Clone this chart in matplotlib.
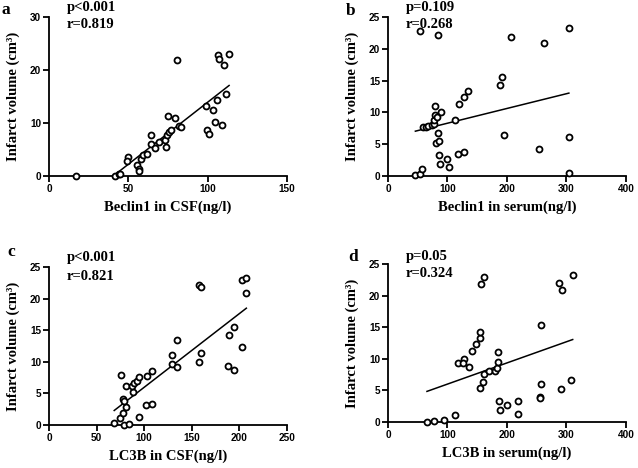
import matplotlib
matplotlib.use("Agg")
import matplotlib.pyplot as plt
import numpy as np

# panel a: Beclin1 in CSF
beclin_csf_x = [17, 41.5, 44, 45, 49.5, 49, 55.6, 56.5, 56.8, 57.7, 59, 62, 64.2, 64.6, 67,
                69.4, 73, 74, 74.5, 75.5, 75, 76.6, 79.7, 80.8, 81.8, 83.5, 99.2, 99.6,
                100.7, 103.4, 104.5, 106, 106.6, 107, 109.3, 110, 111.8, 113.5]
beclin_csf_y = [0, 0, 0.3, 0.3, 3.6, 2.8, 2.0, 1.4, 1.0, 3.3, 3.9, 4.1, 7.7, 6.1, 5.2,
                6.4, 6.7, 5.5, 7.7, 8.3, 11.3, 8.6, 11.0, 21.8, 9.4, 9.2, 13.3, 8.7,
                8.0, 12.4, 10.2, 14.3, 22.8, 22.0, 9.7, 20.9, 15.4, 23.1]

# panel b: Beclin1 in serum
beclin_serum_x = [46, 53, 57, 54, 83.5, 59, 64, 68, 74, 77, 78, 79.6, 78.5, 82, 89, 80.7,
                  85, 84, 85, 88, 100, 102, 113, 117.6, 127.7, 120, 127.7, 134.5, 187.7,
                  191.6, 195.5, 207, 253, 262.7, 303.6, 303.6, 304]
beclin_serum_y = [0.1, 0.3, 1.05, 22.8, 22.1, 7.7, 7.7, 7.9, 8.0, 8.2, 8.8, 9.6, 11.0, 9.3,
                  10.1, 5.2, 5.5, 6.8, 3.3, 1.9, 2.7, 1.4, 8.8, 3.5, 3.8, 11.3, 12.4, 13.4,
                  14.3, 15.5, 6.5, 21.9, 4.2, 20.9, 6.2, 0.4, 23.3]

# panel c: LC3B in CSF
lc3b_csf_x = [68.5, 75, 78, 78.7, 84, 80.8, 78, 79, 75.5, 80.8, 87.8, 86.7, 89, 92, 94.4,
              103, 108, 102.4, 108, 94.4, 129.7, 129.7, 134, 134, 157.3, 159.4, 157.3,
              160, 189, 194.4, 188, 194.4, 202.8, 203, 207.3, 206.6]
lc3b_csf_y = [0.3, 1.05, 1.9, 0.05, 0.15, 2.8, 4.1, 3.8, 7.9, 6.1, 5.3, 6.2, 6.7, 7.0, 7.6,
              7.8, 8.6, 3.2, 3.4, 1.3, 11.1, 9.7, 13.4, 9.2, 10.0, 11.4, 22.2, 21.9, 14.3,
              15.5, 9.4, 8.7, 12.3, 22.9, 23.2, 20.9]

# panel d: LC3B in serum
lc3b_serum_x = [65.5, 76.7, 93.5, 113, 117.6, 127, 126, 135.6, 141, 148, 154, 154, 155,
                159.7, 162, 169, 180, 184, 184.9, 184.9, 156.3, 160.8, 186, 188.8, 200,
                218.5, 218.5, 256, 256, 257.7, 257.7, 288, 292.4, 290.8, 307.6, 310.4]
lc3b_serum_y = [0, 0.1, 0.26, 1.05, 9.4, 10.0, 9.3, 8.7, 11.3, 12.4, 13.3, 14.2, 5.4, 6.4,
                7.6, 8.0, 8.0, 8.5, 9.5, 11.05, 21.8, 22.9, 3.3, 1.85, 2.7, 3.4, 1.3, 4.0,
                3.8, 6.05, 15.4, 21.95, 20.9, 5.2, 6.7, 23.2]

# regression lines (slope, intercept) as drawn in the figure
fit_a = (0.234, -9.48)
fit_b = (0.0232, 5.98)
fit_c = (0.1166, -5.69)
fit_d = (0.0335, 2.65)

stats = [("p<0.001", "r=0.819"), ("p=0.109", "r=0.268"),
         ("p<0.001", "r=0.821"), ("p=0.05", "r=0.324")]
xlabels = ["Beclin1 in CSF(ng/l)", "Beclin1 in serum(ng/l)",
           "LC3B in CSF(ng/l)", "LC3B in serum(ng/l)"]
letters = ["a", "b", "c", "d"]
xlims = [150, 400, 250, 400]
ylims = [30, 25, 25, 25]
xticks = [[0, 50, 100, 150], [0, 100, 200, 300, 400],
          [0, 50, 100, 150, 200, 250], [0, 100, 200, 300, 400]]
yticks = [[0, 10, 20, 30], [0, 5, 10, 15, 20, 25],
          [0, 5, 10, 15, 20, 25], [0, 5, 10, 15, 20, 25]]

serif = "Liberation Serif"
sans = "Liberation Sans"

W, H = 638, 468
fig = plt.figure(figsize=(W / 100, H / 100), dpi=100)

# axes boxes in pixels: left, right, top, bottom
boxes = [(49, 287, 17, 176), (388, 626, 17, 176),
         (49, 287, 267, 425), (388, 626, 264, 422)]
letter_pos = [(2, 10), (346, 11), (7, 252), (348, 257)]
pr_pos = [(1.057, 0.95), (1.057, 0.95), (1.063, 0.943), (1.05, 0.943)]

data = [(beclin_csf_x, beclin_csf_y, fit_a), (beclin_serum_x, beclin_serum_y, fit_b),
        (lc3b_csf_x, lc3b_csf_y, fit_c), (lc3b_serum_x, lc3b_serum_y, fit_d)]

for i in range(4):
    l, r, t, b = boxes[i]
    ax = fig.add_axes([l / W, 1 - b / H, (r - l) / W, (b - t) / H])
    x, y, fit = data[i]
    x = np.array(x)
    xx = np.array([x.min(), x.max()])
    ax.plot(xx, fit[0] * xx + fit[1], color="black", lw=1.1, zorder=2)
    ax.plot(x, y, "o", mfc="white", mec="black", ms=4.3, mew=1.3, clip_on=False, zorder=3)
    ax.set_xlim(0, xlims[i])
    ax.set_ylim(0, ylims[i])
    ax.set_xticks(xticks[i])
    ax.set_yticks(yticks[i])
    for s in ["top", "right"]:
        ax.spines[s].set_visible(False)
    for s in ["left", "bottom"]:
        ax.spines[s].set_linewidth(1.3)
    ax.tick_params(direction="out", length=4, width=1.3, pad=1.5)
    for lab in ax.get_xticklabels() + ax.get_yticklabels():
        lab.set_fontfamily(sans)
        lab.set_fontweight("bold")
        lab.set_fontsize(7.2)
    ax.set_xlabel(xlabels[i], fontfamily=serif, fontweight="bold", fontsize=10.5, labelpad=5)
    ax.set_ylabel("Infarct volume (cm\u00b3)", fontfamily=serif, fontweight="bold",
                  fontsize=10.5, labelpad=7)
    ax.text(0.076, pr_pos[i][0], stats[i][0], transform=ax.transAxes, va="center",
            fontfamily=serif, fontweight="bold", fontsize=10.5)
    ax.text(0.076, pr_pos[i][1], stats[i][1], transform=ax.transAxes, va="center",
            fontfamily=serif, fontweight="bold", fontsize=10.5)
    fig.text(letter_pos[i][0] / W, 1 - letter_pos[i][1] / H, letters[i], va="center",
             fontfamily=serif, fontweight="bold", fontsize=12.5)

fig.savefig("out.png", dpi=100)
